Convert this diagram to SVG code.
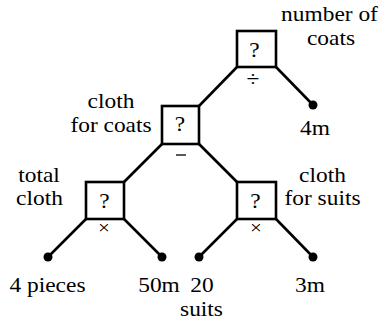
<svg xmlns="http://www.w3.org/2000/svg" width="381" height="322" viewBox="0 0 381 322">
  <style>
    .box { fill: #fff; stroke: #000; stroke-width: 2.6; }
    .edge { stroke: #000; stroke-width: 2.6; fill: none; stroke-linecap: round; }
    .dot { fill: #000; }
    .lbl { font-family: "Liberation Serif", serif; font-size: 20px; fill: #000; text-anchor: middle; }
    .op { font-size: 18px; }
  </style>

  <!-- tree edges -->
  <g id="connectors">
    <line class="edge" x1="237" y1="67" x2="199" y2="106"/>
    <line class="edge" x1="276" y1="67" x2="313" y2="105"/>
    <line class="edge" x1="162" y1="144" x2="124" y2="182"/>
    <line class="edge" x1="199" y1="144" x2="237" y2="182"/>
    <line class="edge" x1="86" y1="219" x2="48" y2="257"/>
    <line class="edge" x1="124" y1="219" x2="162" y2="257"/>
    <line class="edge" x1="237" y1="219" x2="199" y2="257"/>
    <line class="edge" x1="276" y1="219" x2="313" y2="257"/>
  </g>

  <g font-family="Liberation Serif, serif" font-size="20" text-anchor="middle">
  <!-- operation boxes -->
  <g id="coats-count">
    <rect class="box" x="237" y="31" width="39" height="36"/>
    <text class="lbl" transform="translate(254.5,57) scale(1.17,1)">?</text>
    <text class="lbl" transform="translate(253,86) scale(1.17,1)">÷</text>
    <text class="lbl" transform="translate(329.5,20.5) scale(1.17,1)">number of</text>
    <text class="lbl" transform="translate(331,45) scale(1.17,1)">coats</text>
  </g>

  <g id="coat-cloth">
    <rect class="box" x="162" y="106" width="37" height="38"/>
    <text class="lbl" transform="translate(180,131) scale(1.17,1)">?</text>
    <line x1="176" y1="155" x2="186" y2="155" stroke="#000" stroke-width="1.3"/>
    <text class="lbl" transform="translate(111,108) scale(1.17,1)">cloth</text>
    <text class="lbl" transform="translate(111,132) scale(1.17,1)">for coats</text>
  </g>

  <g id="total-cloth">
    <rect class="box" x="86" y="182" width="38" height="37"/>
    <text class="lbl" transform="translate(104.5,208) scale(1.17,1)">?</text>
    <text class="lbl op" transform="translate(104,234) scale(1.17,1)">×</text>
    <text class="lbl" transform="translate(39,181.5) scale(1.17,1)">total</text>
    <text class="lbl" transform="translate(39.5,205) scale(1.17,1)">cloth</text>
  </g>

  <g id="suit-cloth">
    <rect class="box" x="237" y="182" width="39" height="37"/>
    <text class="lbl" transform="translate(255.5,208) scale(1.17,1)">?</text>
    <text class="lbl op" transform="translate(256,234) scale(1.17,1)">×</text>
    <text class="lbl" transform="translate(322.5,182) scale(1.17,1)">cloth</text>
    <text class="lbl" transform="translate(322.5,205) scale(1.17,1)">for suits</text>
  </g>

  <!-- known quantities -->
  <g id="coat-length">
    <circle class="dot" cx="313" cy="105" r="4.5"/>
    <text class="lbl" transform="translate(315,135) scale(1.17,1)">4m</text>
  </g>

  <g id="pieces">
    <circle class="dot" cx="48" cy="257" r="4.5"/>
    <text class="lbl" transform="translate(47.5,291.5) scale(1.17,1)">4 pieces</text>
  </g>

  <g id="piece-length">
    <circle class="dot" cx="162" cy="257" r="4.5"/>
    <text class="lbl" transform="translate(159,291.5) scale(1.17,1)">50m</text>
  </g>

  <g id="suits">
    <circle class="dot" cx="199" cy="257" r="4.5"/>
    <text class="lbl" transform="translate(202,291.5) scale(1.17,1)">20</text>
    <text class="lbl" transform="translate(201.5,316) scale(1.17,1)">suits</text>
  </g>

  <g id="suit-length">
    <circle class="dot" cx="313" cy="257" r="4.5"/>
    <text class="lbl" transform="translate(310,291.5) scale(1.17,1)">3m</text>
  </g>
  </g>
</svg>
